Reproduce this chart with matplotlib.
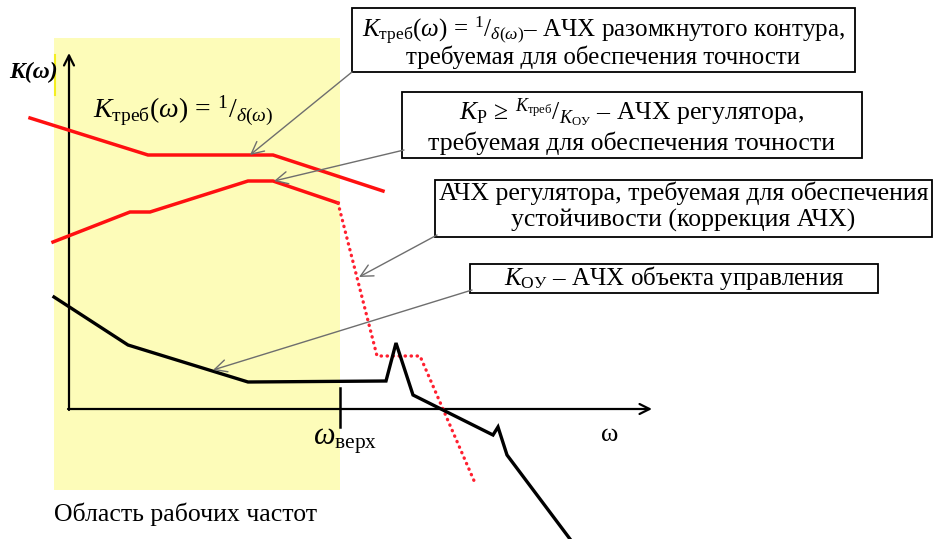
import matplotlib
matplotlib.use("Agg")
import matplotlib.pyplot as plt
from matplotlib.patches import Rectangle

plt.rcParams['font.family'] = ['Liberation Serif', 'DejaVu Serif']
plt.rcParams['mathtext.fontset'] = 'custom'
plt.rcParams['mathtext.rm'] = 'Liberation Serif'
plt.rcParams['mathtext.it'] = 'Liberation Serif:italic'
plt.rcParams['mathtext.bf'] = 'Liberation Serif:bold'

# --- curves (omega, K), origin at the crossing of the axes ---
# required open-loop magnitude K_treb = 1/delta
treb_w = [-39, 79, 204, 314]
treb_k = [291, 254, 254, 218]
# controller magnitude for accuracy
reg_w = [-16, 61, 81, 179, 204, 269]
reg_k = [167, 197, 197, 228, 228, 206]
# controller magnitude for stability (corrected)
corr_w = [269, 308, 351, 406]
corr_k = [206, 53, 53, -74]
# plant magnitude K_OY
plant_w = [-15, 59, 179, 317, 327, 344, 424, 429, 438, 501]
plant_k = [112, 64, 27, 28, 66, 14, -26, -18, -46, -130]

w_upper = 271           # upper working frequency
work_band = (-15, 271)  # shaded band of working frequencies

# callout boxes: (left, bottom, right, top, [(text, baseline, size)], arrow start, arrow tip)
boxes = [
    (283, 337, 786, 401,
     [(r"$K_{\mathrm{треб}}(\omega)\,=\,{}^{1}/_{\delta(\omega)}$– АЧХ разомкнутого контура,", 373, 18),
      ("требуемая для обеспечения точности", 345, 18)],
     (283, 337), (181, 254)),
    (333, 251, 793, 317,
     [(r"$K_{\mathrm{Р}}\,\geq\,{}^{K_{\mathrm{треб}}}/_{K_{\mathrm{ОУ}}}$ – АЧХ регулятора,", 289, 18.5),
      ("требуемая для обеспечения точности", 259, 18.5)],
     (335, 259), (205, 228)),
    (366, 172, 863, 229,
     [("АЧХ регулятора, требуемая для обеспечения", 209, 18.5),
      ("устойчивости (коррекция АЧХ)", 182, 18.5)],
     (368, 174), (290, 132)),
    (401, 116, 809, 145,
     [(r"$K_{\mathrm{ОУ}}$ – АЧХ объекта управления", 124, 18)],
     (403, 119), (144, 39)),
]

fig = plt.figure(figsize=(9.35, 5.39), dpi=100)
ax = fig.add_axes([0, 0, 1, 1])
ax.set_xlim(-69, 866)
ax.set_ylim(-130, 409)
ax.axis('off')

# working frequency band
ax.add_patch(Rectangle((work_band[0], -81), work_band[1] - work_band[0], 452,
                       facecolor='#fdfcb9', edgecolor='none', zorder=0))
ax.plot([-14, -14], [314, 354], color='#f4ee20', lw=1.5, zorder=1)

# axes with arrows
ax.annotate('', xy=(0, 356), xytext=(0, -1),
            arrowprops=dict(arrowstyle='->', lw=1.6, color='black',
                            mutation_scale=18, shrinkA=0, shrinkB=0))
ax.annotate('', xy=(583, 0), xytext=(-1, 0),
            arrowprops=dict(arrowstyle='->', lw=1.6, color='black',
                            mutation_scale=18, shrinkA=0, shrinkB=0))
ax.plot([w_upper, w_upper], [21, -18], color='black', lw=1.8)

# curves
ax.plot(treb_w, treb_k, color='#ff1010', lw=2.5, solid_joinstyle='miter', zorder=3)
ax.plot(reg_w, reg_k, color='#ff1010', lw=2.5, solid_joinstyle='miter', zorder=3)
ax.plot(corr_w, corr_k, color='#ff2030', lw=2.4, linestyle=(0, (0.1, 1.7)),
        dash_capstyle='round', zorder=3)
ax.plot(plant_w, plant_k, color='black', lw=2.4, solid_joinstyle='miter', zorder=3)

# labels on the axes
ax.text(-60, 337, "K(ω)", fontsize=17, fontweight='bold', style='italic',
        ha='left', va='center')
ax.text(276, -36, r"$\omega_{\mathrm{верх}}$", fontsize=22, ha='center', va='baseline')
ax.text(541, -32, "ω", fontsize=19, ha='center', va='baseline')
ax.text(-15, -112, "Область рабочих частот", fontsize=18.5, ha='left', va='baseline')
ax.text(24, 291, r"$K_{\mathrm{треб}}(\omega)\,=\,{}^{1}/_{\delta(\omega)}$",
        fontsize=20, ha='left', va='baseline')

# callout boxes with leader arrows
for left, bottom, right, top, lines, start, tip in boxes:
    ax.add_patch(Rectangle((left, bottom), right - left, top - bottom,
                           facecolor='white', edgecolor='black', lw=1.3, zorder=4))
    for line, base, size in lines:
        ax.text((left + right) / 2, base, line,
                fontsize=size, ha='center', va='baseline', zorder=5)
    ax.annotate('', xy=tip, xytext=start,
                arrowprops=dict(arrowstyle='->', lw=1.0, color='#6e6e6e',
                                mutation_scale=22, shrinkA=0, shrinkB=0),
                zorder=6)

fig.savefig('out.png', dpi=100)
